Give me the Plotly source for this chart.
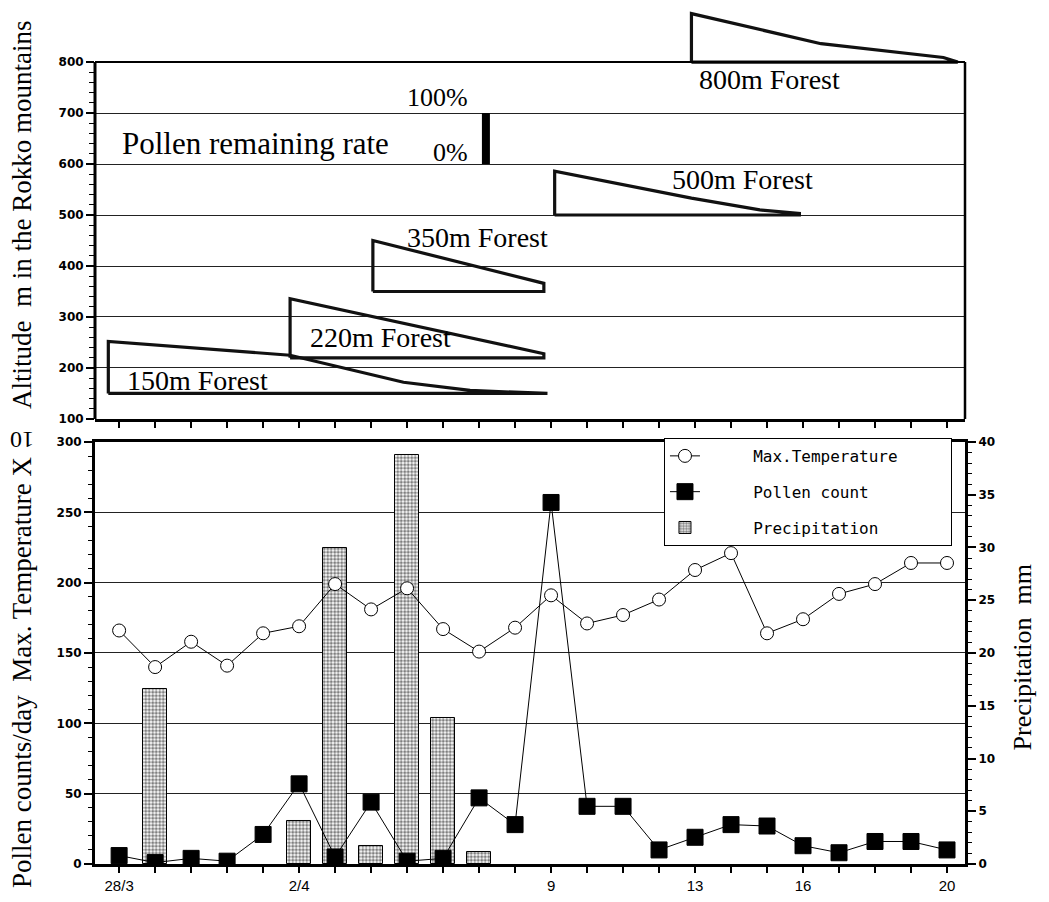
import plotly.graph_objects as go

# ---------------- data ----------------
days = list(range(24))  # 28/3 .. 20/4 as day index
tick_labels = {0: "28/3", 5: "2/4", 12: "9", 16: "13", 19: "16", 23: "20"}

max_temp = [166, 140, 158, 141, 164, 169, 199, 181, 196, 167, 151, 168,
            191, 171, 177, 188, 209, 221, 164, 174, 192, 199, 214, 214]
pollen = [6, 1, 4, 2, 21, 57, 5, 44, 2, 4, 47, 28,
          257, 41, 41, 10, 19, 28, 27, 13, 8, 16, 16, 10]
precip = [None, 16.6, None, None, None, 4.1, 30.0, 1.7, 38.8, 13.8, 1.1, None,
          None, None, None, None, None, None, None, None, None, None, None, None]

# pollen remaining-rate outlines: (day, altitude of top edge), base altitude
forest_150_base = 150
forest_150_x = [-0.3, 4.75, 7.9, 9.75, 11.9]
forest_150_top = [252, 225, 172, 156, 150]

forest_220_base = 220
forest_220_x = [4.75, 11.8]
forest_220_top = [336, 228]

forest_350_base = 350
forest_350_x = [7.05, 11.8]
forest_350_top = [450, 366]

forest_500_base = 500
forest_500_x = [12.1, 15.9, 17.8, 18.9]
forest_500_top = [586, 533, 510, 503]

forest_800_base = 800
forest_800_x = [15.9, 19.5, 22.9, 23.3]
forest_800_top = [895, 836, 809, 800]

rate_bar_x = 10.19
rate_bar_alt = [600, 700]

forest_labels = ["800m Forest", "500m Forest", "350m Forest", "220m Forest", "150m Forest"]
forest_label_x = [16.05, 15.3, 7.94, 5.25, 0.17]
forest_label_y = [765, 569, 455, 259, 176]

XR = [-0.67, 23.5]
SERIF = "Liberation Serif, Times New Roman, serif"
TICKF = dict(family="DejaVu Sans, Arial", size=12, color="black", weight="bold")
PAD = "\u00a0" * 5

fig = go.Figure()


def outline(xs, tops, base):
    px = [xs[0]] + list(xs) + [xs[-1], xs[0]]
    py = [base] + list(tops) + [base, base]
    fig.add_trace(go.Scatter(x=px, y=py, mode="lines", xaxis="x", yaxis="y",
                             line=dict(color="#111", width=3.2), showlegend=False,
                             hoverinfo="skip"))


outline(forest_150_x, forest_150_top, forest_150_base)
outline(forest_220_x, forest_220_top, forest_220_base)
outline(forest_350_x, forest_350_top, forest_350_base)
outline(forest_500_x, forest_500_top, forest_500_base)
outline(forest_800_x, forest_800_top, forest_800_base)

fig.add_trace(go.Scatter(x=[rate_bar_x, rate_bar_x], y=rate_bar_alt, mode="lines",
                         xaxis="x", yaxis="y", line=dict(color="black", width=8),
                         showlegend=False, hoverinfo="skip"))

# ---------------- bottom panel ----------------
fig.add_trace(go.Scatter(x=days, y=max_temp, name=PAD + "Max.Temperature" + PAD,
                         mode="lines+markers", xaxis="x2", yaxis="y3", legendgroup="a",
                         line=dict(color="black", width=1),
                         marker=dict(symbol="circle", size=13, color="white",
                                     line=dict(color="black", width=1))))
fig.add_trace(go.Scatter(x=days, y=pollen, name=PAD + "Pollen count", mode="lines+markers",
                         xaxis="x2", yaxis="y3", legendgroup="b",
                         line=dict(color="black", width=1),
                         marker=dict(symbol="square", size=16, color="black",
                                     line=dict(color="black", width=1))))
fig.add_trace(go.Bar(x=days, y=precip, name=PAD + "Precipitation", width=0.68,
                     xaxis="x2", yaxis="y2", legendgroup="c",
                     marker=dict(color="white", line=dict(color="black", width=1),
                                 pattern=dict(shape=".", fgcolor="black", bgcolor="white",
                                              size=3.5, solidity=0.6))))

alt_major = list(range(100, 801, 100))
alt_minor = [v for v in range(100, 801, 20) if v % 100]

fig.update_layout(
    width=1041, height=894, paper_bgcolor="white", plot_bgcolor="white",
    margin=dict(l=87, r=84, t=0, b=38, autoexpand=False),
    xaxis=dict(domain=[0, 1], anchor="y", range=XR, showgrid=False, zeroline=False,
               showline=True, linecolor="black", linewidth=3,
               tickvals=days, showticklabels=False, ticks="outside", ticklen=6,
               tickwidth=2, tickcolor="black"),
    yaxis=dict(domain=[0.5199, 1.0], anchor="x", range=[100, 906], zeroline=False,
               showline=False, tickvals=alt_major, ticks="outside", ticklen=8,
               tickwidth=2, tickcolor="black", tickfont=TICKF,
               showgrid=True, gridcolor="#222", gridwidth=1,
               minor=dict(tickvals=alt_minor, ticks="outside", ticklen=5,
                          tickcolor="black", tickwidth=1, showgrid=False)),
    xaxis2=dict(domain=[0, 1], anchor="y2", range=XR, showgrid=False, zeroline=False,
                showline=True, linecolor="black", linewidth=3, mirror=True,
                tickvals=days, ticktext=[tick_labels.get(d, "") for d in days],
                ticks="outside", ticklen=6, tickwidth=2, tickcolor="black",
                tickfont=dict(family="Liberation Sans Narrow, Liberation Sans, Arial",
                              size=15, color="black")),
    yaxis2=dict(domain=[0, 0.493], anchor="x2", side="right", range=[0, 40],
                showgrid=False, zeroline=False, showline=True, linecolor="black",
                linewidth=3, tickvals=list(range(0, 41, 5)), ticks="outside",
                ticklen=8, tickwidth=2, tickcolor="black", tickfont=TICKF,
                minor=dict(dtick=1, ticks="outside", ticklen=4, tickcolor="black",
                           tickwidth=1, showgrid=False)),
    yaxis3=dict(overlaying="y2", anchor="x2", side="left", range=[0, 300],
                zeroline=False, showline=True, linecolor="black", linewidth=3,
                tickvals=list(range(0, 301, 50)), ticks="outside", ticklen=8,
                tickwidth=2, tickcolor="black", tickfont=TICKF,
                showgrid=True, gridcolor="#222", gridwidth=1,
                minor=dict(dtick=10, ticks="outside", ticklen=4, tickcolor="black",
                           tickwidth=1, showgrid=False)),
    legend=dict(x=0.654, y=0.4977, xanchor="left", yanchor="top",
                bgcolor="white", bordercolor="black", borderwidth=1,
                font=dict(family="DejaVu Sans Mono, monospace", size=16, color="black"),
                traceorder="grouped", tracegroupgap=12),
    bargap=0,
    showlegend=True,
)

# frame pieces of top panel
fig.add_shape(type="line", xref="x domain", yref="y", x0=0, x1=0, y0=100, y1=800,
              line=dict(color="black", width=3))
fig.add_shape(type="line", xref="x domain", yref="y", x0=1, x1=1, y0=100, y1=800,
              line=dict(color="black", width=2.5))
fig.add_shape(type="line", xref="x domain", yref="y", x0=0, x1=1, y0=800, y1=800,
              line=dict(color="black", width=2))

ann = []
for t, x, y in zip(forest_labels, forest_label_x, forest_label_y):
    ann.append(dict(text=t, x=x, y=y, xref="x", yref="y", xanchor="left", yanchor="middle",
                    showarrow=False, font=dict(family=SERIF, size=28, color="black")))
ann.append(dict(text="Pollen remaining rate", x=0.03, y=641, xref="x", yref="y",
                xanchor="left", yanchor="middle", showarrow=False,
                font=dict(family=SERIF, size=31, color="black")))
ann.append(dict(text="100%", x=9.75, y=731, xref="x", yref="y", xanchor="right",
                yanchor="middle", showarrow=False, font=dict(family=SERIF, size=26, color="black")))
ann.append(dict(text="0%", x=9.75, y=623, xref="x", yref="y", xanchor="right",
                yanchor="middle", showarrow=False, font=dict(family=SERIF, size=26, color="black")))
ann.append(dict(text="Altitude  m in the Rokko mountains", x=-0.0839, y=0.7582,
                xref="paper", yref="paper", textangle=-90, showarrow=False,
                xanchor="center", yanchor="middle",
                font=dict(family=SERIF, size=27, color="black")))
ann.append(dict(text="Pollen counts/day  Max. Temperature X", x=-0.0839, y=0.2243,
                xref="paper", yref="paper", textangle=-90, showarrow=False,
                xanchor="center", yanchor="middle",
                font=dict(family=SERIF, size=27, color="black")))
ann.append(dict(text="10", x=-0.0839, y=0.4953, xref="paper", yref="paper",
                textangle=180, showarrow=False, xanchor="center", yanchor="middle",
                font=dict(family=SERIF, size=24, color="black")))
ann.append(dict(text="Precipitation  mm", x=1.066, y=0.2418, xref="paper", yref="paper",
                textangle=-90, showarrow=False, xanchor="center", yanchor="middle",
                font=dict(family=SERIF, size=26, color="black")))
fig.update_layout(annotations=ann)

fig.write_html("out.html")
